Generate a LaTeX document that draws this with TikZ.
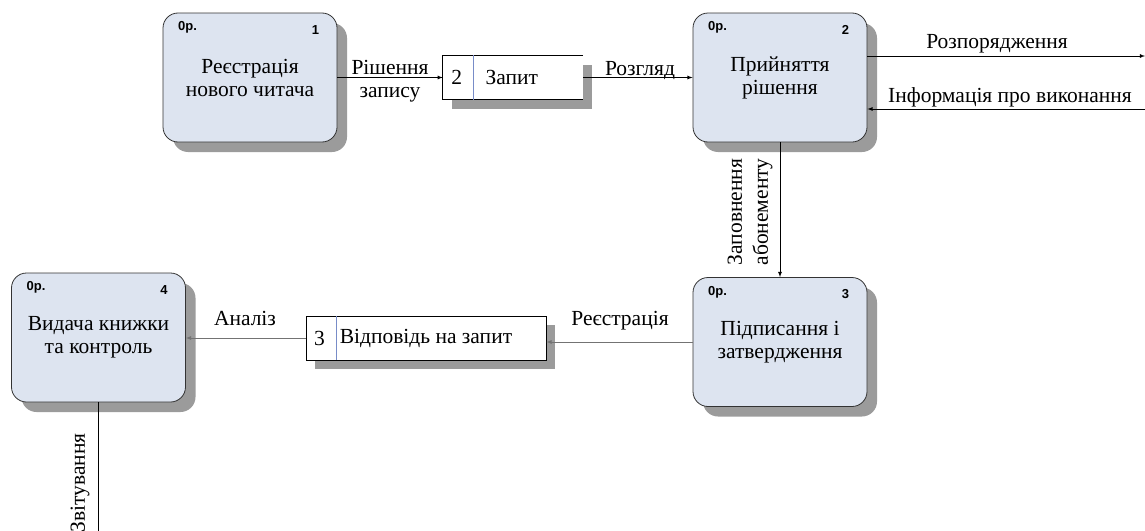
\documentclass[tikz,border=0pt]{standalone}
\usepackage{fontspec}
\setmainfont{Liberation Serif}
\newfontfamily\tagfont{Liberation Sans}
\usetikzlibrary{shadows}
\definecolor{procfill}{RGB}{221,228,240}
\definecolor{shadowgray}{RGB}{155,155,155}
\definecolor{divline}{RGB}{120,140,200}
\begin{document}
\begin{tikzpicture}[x=1pt, y=-1pt,
    font=\fontsize{21.5}{23}\selectfont,
    proc/.style={draw=black!80, fill=procfill, rounded corners=15pt, minimum width=174pt, minimum height=129pt, align=center, line width=0.8pt, drop shadow={shadow xshift=10pt, shadow yshift=-10pt, fill=shadowgray, opacity=1}},
    store/.style={fill=white, minimum height=44pt, inner sep=0pt, drop shadow={shadow xshift=9pt, shadow yshift=-9pt, fill=shadowgray, opacity=1}},
    tag/.style={font=\tagfont\bfseries\fontsize{13}{15}\selectfont, inner sep=0pt},
    lbl/.style={inner sep=0pt, anchor=base},
    flow/.style={draw=black, line width=0.8pt, -latex},
    gflow/.style={flow, draw=black!55}]
    \useasboundingbox (0,0) rectangle (1145,530);
    % processes
    \node[proc] (rej) at (250,77.5) {Реєстрація\\нового читача};
    \node[proc] (prij) at (780,77.5) {Прийняття\\рішення};
    \node[proc] (pidp) at (780,342) {Підписання і\\затвердження};
    \node[proc] (vyd) at (98.5,337.5) {Видача книжки\\та контроль};
    \foreach \n/\k in {rej/1, prij/2, pidp/3, vyd/4} {
      \node[tag] (\n-op) at ([xshift=25pt,yshift=-15pt]\n.north west) {0р.};
      \node[tag] (\n-no) at ([xshift=-22pt,yshift=-17pt]\n.north east) {\k};
    }
    % stores
    \node[store, minimum width=140pt] (zapyt) at (513,77.5) {};
    \draw[line width=0.8pt] (zapyt.north east) -- (zapyt.north west) -- (zapyt.south west) -- (zapyt.south east);
    \draw[divline] ([xshift=30pt]zapyt.north west) -- ([xshift=30pt]zapyt.south west);
    \node (zapyt-no) at ([xshift=14pt]zapyt.west) {2};
    \node (zapyt-nm) at ([xshift=69pt]zapyt.west) {Запит};
    \node[store, draw, line width=0.8pt, minimum width=240pt] (vidp) at (426,338) {};
    \draw[divline] ([xshift=31pt]vidp.north west) -- ([xshift=31pt]vidp.south west);
    \node (vidp-no) at ([xshift=14pt]vidp.west) {3};
    \node[inner sep=0pt, anchor=west] (vidp-nm) at ([xshift=34pt]vidp.west) {Відповідь на запит};
    % flows
    \coordinate (rozp) at (1145,56);
    \coordinate (info) at (1145,109);
    \coordinate (zvit) at (98.5,531);
    \draw[flow] (rej) -- (zapyt);
    \draw[flow] (zapyt) -- (prij);
    \draw[flow] (prij.east |- rozp) -- (rozp);
    \draw[flow] (info) -- (prij.east |- info);
    \draw[flow] (prij) -- (pidp);
    \draw[gflow] (pidp.west) -- (pidp.west -| vidp.east);
    \draw[gflow] (vidp.west) -- (vidp.west -| vyd.east);
    \draw[flow, -] (vyd) -- (zvit);
    % labels
    \node[lbl] (l-rish) at (390,74) {Рішення};
    \node[lbl] (l-zap) at (390,97) {запису};
    \node[lbl] (l-rozg) at (640,75) {Розгляд};
    \node[lbl] (l-rozp) at (997,48) {Розпорядження};
    \node[lbl] (l-info) at (1010,102) {Інформація про виконання};
    \node[rotate=90, align=center, inner sep=0pt, font=\fontsize{21.5}{26}\selectfont] (l-abon) at (750,212) {Заповнення\\абонементу};
    \node[lbl] (l-reie) at (620,325) {Реєстрація};
    \node[lbl] (l-anal) at (245,325) {Аналіз};
    \node[inner sep=0pt, rotate=90, anchor=east] (l-zvit) at (80,433) {Звітування};
\end{tikzpicture}
\end{document}
